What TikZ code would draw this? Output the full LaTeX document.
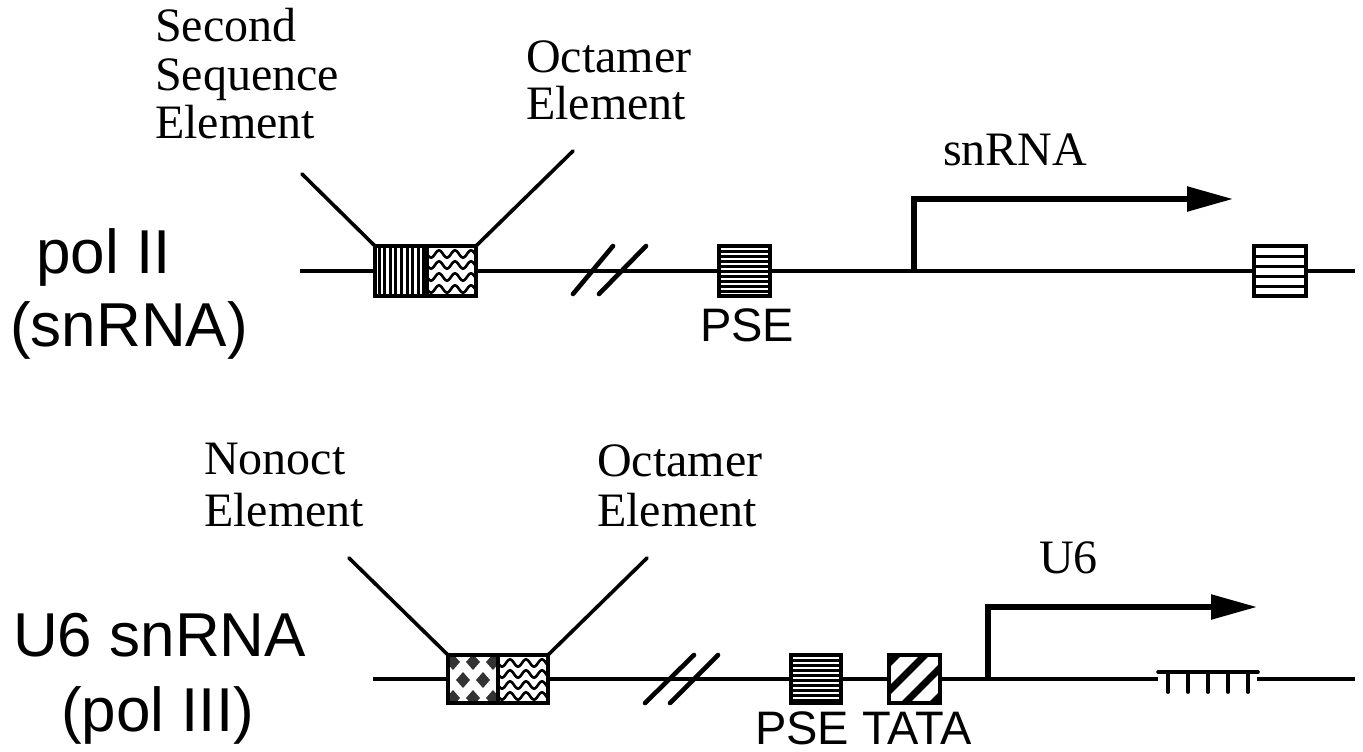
\documentclass[tikz,border=0pt]{standalone}
\usepackage{fontspec}
\setmainfont{Liberation Serif}
\newfontfamily\helv{Liberation Sans}
\usetikzlibrary{arrows.meta}
\begin{document}
\begin{tikzpicture}[x=1pt,y=-1pt,
  dna/.style={line width=3.2pt},
  conn/.style={line width=3.6pt},
  brk/.style={line width=4.6pt, line cap=round},
  elbox/.style={draw, line width=3.4pt, fill=white, minimum height=50pt, inner sep=0pt, outer sep=0pt},
  lowbox/.style={elbox, minimum height=48pt},
  lbl/.style={font=\fontsize{48}{48}\selectfont, inner sep=0pt, anchor=base west},
  big/.style={font=\helv\fontsize{62}{75}\selectfont, inner sep=0pt, anchor=base west},
  sml/.style={font=\helv\fontsize{47}{50}\selectfont, inner sep=0pt, anchor=base west},
  txarrow/.style={line width=5.5pt, -{Triangle[length=46pt,width=24pt]}},
  stripe/.style={line width=3pt},
  wave/.style={line width=2.6pt},
  border/.style={draw, line width=3.4pt}
]
\useasboundingbox (0,0) rectangle (1363,752);

% ---------------- top construct ----------------
\coordinate (t0) at (300,271);
\coordinate (t1) at (1355,271);
\draw[dna] (t0) -- (t1);

\node[elbox, minimum width=52pt] (sse) at (401,271) {};
\node[elbox, minimum width=49pt] (oct1) at (451.5,271) {};
\node[elbox, minimum width=51pt] (pse1) at (744.5,271) {};
\node[elbox, minimum width=52pt] (term1) at (1280,271) {};

% vertical stripes
\begin{scope}
\clip (sse.south west) rectangle (sse.north east);
\foreach \i in {0,...,8} \draw[stripe] (379+\i*5.6,240) -- (379+\i*5.6,300);
\end{scope}
\draw[border] (sse.south west) rectangle (sse.north east);
% waves
\begin{scope}
\clip (oct1.south west) rectangle (oct1.north east);
\foreach \yy in {254,265,277,289}
  \draw[wave] plot[domain=425:479,samples=70,smooth] (\x,{\yy+3.6*sin(22.5*(\x-427))});
\end{scope}
\draw[border] (oct1.south west) rectangle (oct1.north east);
% horizontal stripes PSE
\begin{scope}
\clip (pse1.south west) rectangle (pse1.north east);
\foreach \yy in {251,256,...,291} \draw[stripe] (715,\yy) -- (775,\yy);
\end{scope}
\draw[border] (pse1.south west) rectangle (pse1.north east);
% terminal box lines
\foreach \yy in {256,266,276,286} \draw[line width=3pt] (term1.west |- 0,\yy) -- (term1.east |- 0,\yy);
\draw[border] (term1.south west) rectangle (term1.north east);

% connectors
\coordinate (sseTop) at (302,174);
\coordinate (octTop) at (573,151);
\draw[conn, line cap=round] (sse.north west) -- (sseTop);
\draw[conn, line cap=round] (oct1.north east) -- (octTop);

% break
\draw[brk] (573,294) -- (613,246);
\draw[brk] (599,294) -- (646,246);

% transcription arrow
\coordinate (tss1) at (914,271);
\coordinate (tip1) at (1233,199);
\draw[txarrow] (tss1) |- (tip1);

% labels
\node[lbl] (lss1) at (155,42) {Second};
\node[lbl] (lss2) at (155,90) {Sequence};
\node[lbl] (lss3) at (155,138) {Element};
\node[lbl] (loc1) at (526,73) {Octamer};
\node[lbl] (loc2) at (526,119) {Element};
\node[lbl] (lsn) at (943,165) {snRNA};
\node[big] (pol2a) at (36,273) {pol II};
\node[big] (pol2b) at (10,346) {(snRNA)};
\node[sml] (lpse1) at (700,341) {PSE};

% ---------------- bottom construct ----------------
\coordinate (u0) at (373,679);
\coordinate (u1) at (1158,679);
\coordinate (u2) at (1257,679);
\coordinate (u3) at (1355,679);
\draw[dna] (u0) -- (u1);
\draw[dna] (u2) -- (u3);
% TTTTT
\coordinate (ta) at (1158,672);
\coordinate (tb) at (1258,672);
\draw[line width=3.6pt, line cap=round] (ta) -- (tb);
\foreach \xx in {1168,1188,1208,1228,1248} \draw[line width=3.8pt, line cap=round] (\xx,672) -- (\xx,692);

\node[lowbox, minimum width=50pt] (nonoct) at (473,679) {};
\node[lowbox, minimum width=50pt] (oct2) at (523,679) {};
\node[lowbox, minimum width=50pt] (pse2) at (816,679) {};
\node[lowbox, minimum width=51pt] (tata) at (914.5,679) {};

% diamonds
\begin{scope}
\clip (nonoct.south west) rectangle (nonoct.north east);
\foreach \cx/\cy in {453/662,473/662,493/662,443/680,463/680,483/680,503/680,453/698,473/698,493/698}
  \fill[black!80] (\cx-7,\cy) -- (\cx,\cy-8) -- (\cx+7,\cy) -- (\cx,\cy+8) -- cycle;
\end{scope}
\draw[border] (nonoct.south west) rectangle (nonoct.north east);
% waves
\begin{scope}
\clip (oct2.south west) rectangle (oct2.north east);
\foreach \yy in {663,674,685,696}
  \draw[wave] plot[domain=496:550,samples=70,smooth] (\x,{\yy+3.6*sin(22.5*(\x-498))});
\end{scope}
\draw[border] (oct2.south west) rectangle (oct2.north east);
% PSE stripes
\begin{scope}
\clip (pse2.south west) rectangle (pse2.north east);
\foreach \yy in {660,665,...,700} \draw[stripe] (786,\yy) -- (846,\yy);
\end{scope}
\draw[border] (pse2.south west) rectangle (pse2.north east);
% TATA diagonal stripes
\begin{scope}
\clip (tata.south west) rectangle (tata.north east);
\foreach \cc in {1552,1580,1608,1636} \draw[line width=7pt] (\cc-720,720) -- (\cc-640,640);
\end{scope}
\draw[border] (tata.south west) rectangle (tata.north east);

% connectors
\coordinate (nonTop) at (349,558);
\coordinate (oct2Top) at (647,558);
\draw[conn, line cap=round] (nonoct.north west) -- (nonTop);
\draw[conn, line cap=round] (oct2.north east) -- (oct2Top);

% break
\draw[brk] (645,703) -- (694,655);
\draw[brk] (670,703) -- (718,655);

% transcription arrow
\coordinate (tss2) at (988,679);
\coordinate (tip2) at (1257,607);
\draw[txarrow] (tss2) |- (tip2);

% labels
\node[lbl] (lnon1) at (204,474) {Nonoct};
\node[lbl] (lnon2) at (204,526) {Element};
\node[lbl] (loc3) at (597,476) {Octamer};
\node[lbl] (loc4) at (597,526) {Element};
\node[lbl] (lu6) at (1039,573) {U6};
\node[big] (u6a) at (13,656) {U6 snRNA};
\node[big] (u6b) at (61,731) {(pol III)};
\node[sml] (lpt) at (755,744) {PSE TATA};
\end{tikzpicture}
\end{document}
